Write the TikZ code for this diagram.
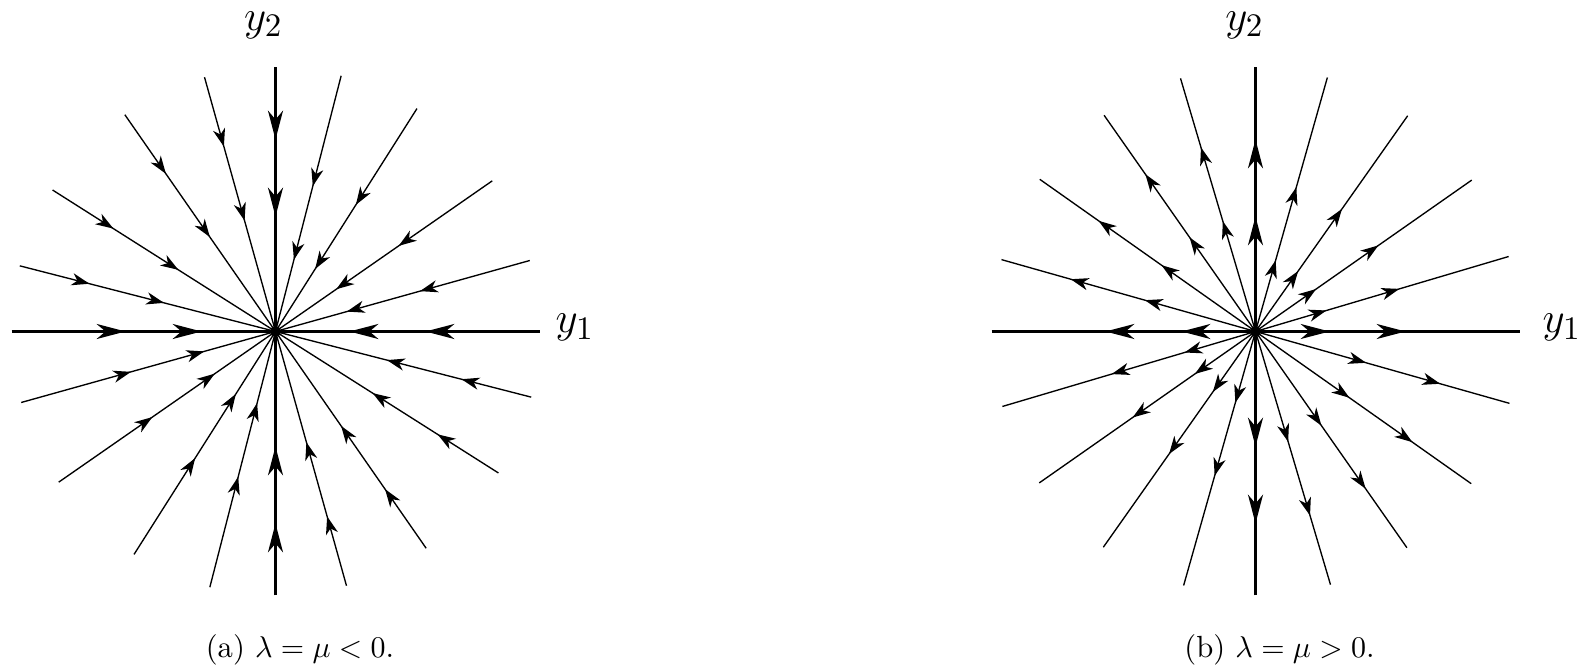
\documentclass[tikz,border=0pt]{standalone}
\begin{document}
\begin{tikzpicture}[x=0.3333pt,y=0.3333pt,
  axisline/.style={line width=0.68pt},
  rayline/.style={line width=0.45pt},
  thinhead/.pic={\fill (0,0) -- (-18,6.2) -- (-12.5,0) -- (-18,-6.2) -- cycle;},
  thickhead/.pic={\fill (0,0) -- (-29,7.6) -- (-20,0) -- (-29,-7.6) -- cycle;},
  axlabel/.style={inner sep=0pt, font=\fontsize{15.5}{18}\selectfont},
  caplabel/.style={inner sep=0pt, anchor=base, font=\fontsize{10.2}{12}\selectfont}
]
\useasboundingbox (0,0) rectangle (1587,668);
\coordinate (A) at (275.5,336.5);
\coordinate (B) at (1255.5,336.5);

% ---------- panel (a): stable star, arrows toward the centre ----------
\foreach \a in {15.6,34.8,57.6,75.6}{
  \foreach \o in {0,180}{
    \draw[rayline] (A) -- ++(\a+\o:264);
    \path (A) ++(\a+\o:74) pic[rotate=\a+\o+180]{thinhead};
    \path (A) ++(\a+\o:150) pic[rotate=\a+\o+180]{thinhead};
    \draw[rayline] (A) -- ++(\a+\o+90:264);
    \path (A) ++(\a+\o+90:115) pic[rotate=\a+\o+270]{thinhead};
    \path (A) ++(\a+\o+90:192) pic[rotate=\a+\o+270]{thinhead};
  }
}
\draw[axisline] (A) ++(180:264) -- ++(0:528);
\draw[axisline] (A) ++(270:264) -- ++(90:528);
\foreach \o in {0,180}{
  \path (A) ++(\o:74) pic[rotate=\o+180]{thickhead};
  \path (A) ++(\o:150) pic[rotate=\o+180]{thickhead};
  \path (A) ++(\o+90:115) pic[rotate=\o+270]{thickhead};
  \path (A) ++(\o+90:192) pic[rotate=\o+270]{thickhead};
}
\fill (A) circle (5.5);
\node[axlabel, anchor=base] (y2a) at (263.5,637.5) {$y_2$};
\node[axlabel, anchor=base west] (y1a) at (555,335) {$y_1$};
\node[caplabel] (capa) at (300,10) {(a) $\lambda=\mu<0$.};

% ---------- panel (b): unstable star, arrows away from the centre ----------
\foreach \a in {16.5,35,54.8,74.2}{
  \foreach \o in {0,180}{
    \draw[rayline] (B) -- ++(\a+\o:264);
    \path (B) ++(\a+\o:74) pic[rotate=\a+\o]{thinhead};
    \path (B) ++(\a+\o:150) pic[rotate=\a+\o]{thinhead};
    \draw[rayline] (B) -- ++(\a+\o+90:264);
    \path (B) ++(\a+\o+90:115) pic[rotate=\a+\o+90]{thinhead};
    \path (B) ++(\a+\o+90:192) pic[rotate=\a+\o+90]{thinhead};
  }
}
\draw[axisline] (B) ++(180:264) -- ++(0:528);
\draw[axisline] (B) ++(270:264) -- ++(90:528);
\foreach \o in {0,180}{
  \path (B) ++(\o:74) pic[rotate=\o]{thickhead};
  \path (B) ++(\o:150) pic[rotate=\o]{thickhead};
  \path (B) ++(\o+90:115) pic[rotate=\o+90]{thickhead};
  \path (B) ++(\o+90:192) pic[rotate=\o+90]{thickhead};
}
\fill (B) circle (5.5);
\node[axlabel, anchor=base] (y2b) at (1244.6,637.5) {$y_2$};
\node[axlabel, anchor=base west] (y1b) at (1542,335) {$y_1$};
\node[caplabel] (capb) at (1279.5,10) {(b) $\lambda=\mu>0$.};
\end{tikzpicture}
\end{document}
